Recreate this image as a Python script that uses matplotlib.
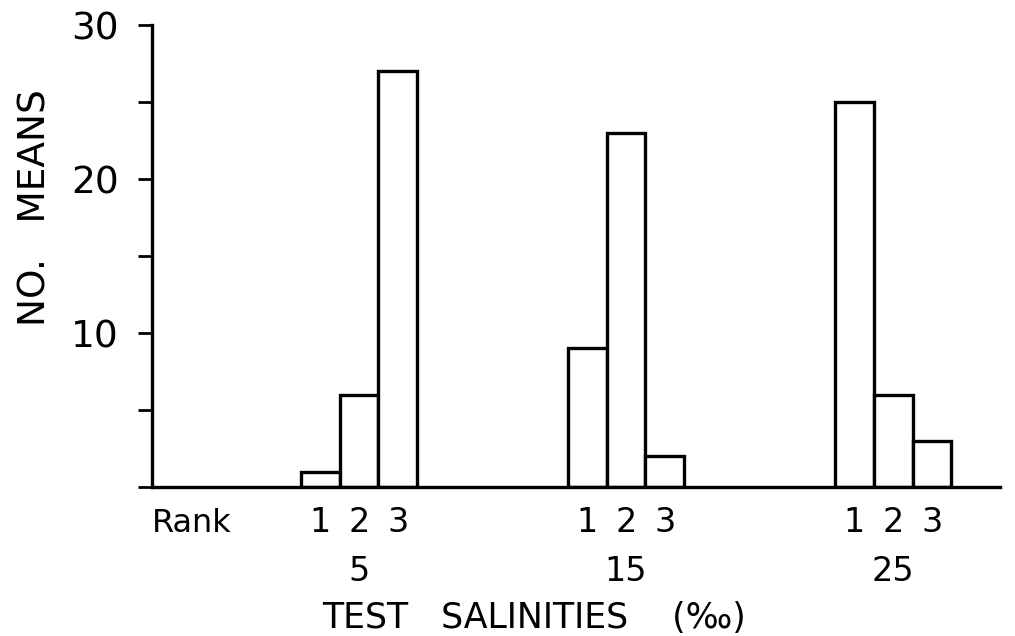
import numpy as np
import matplotlib.pyplot as plt

# data
salinities = [5, 15, 25]
ranks = [1, 2, 3]
rank1 = [1, 9, 25]
rank2 = [6, 23, 6]
rank3 = [27, 2, 3]

plt.rcParams['font.family'] = 'DejaVu Sans'

fig = plt.figure(figsize=(10.15, 6.36), dpi=100)
ax = fig.add_axes([152 / 1015, 1 - 487 / 636, 848 / 1015, 462 / 636])

w = 1.45
x = np.array(salinities, dtype=float)
for off, vals in zip([-w, 0, w], [rank1, rank2, rank3]):
    ax.bar(x + off, vals, width=w, facecolor='white', edgecolor='black',
           linewidth=2.4)

ax.set_xlim(-2.75, 29.0)
ax.set_ylim(0, 30)

for s in ['top', 'right']:
    ax.spines[s].set_visible(False)
for s in ['left', 'bottom']:
    ax.spines[s].set_linewidth(2.4)

ax.set_yticks([0, 5, 10, 15, 20, 25, 30])
ax.set_yticklabels(['', '', '10', '', '20', '', '30'])
ax.tick_params(axis='y', length=10, width=2, pad=14, labelsize=27)

# rank numbers under each bar
pos = sorted(np.concatenate([x + off for off in [-w, 0, w]]))
ax.set_xticks(pos)
ax.set_xticklabels([str(r) for _ in salinities for r in ranks])
ax.tick_params(axis='x', length=0, pad=14, labelsize=24)

ax.text(-1.25, -0.08, 'Rank', transform=ax.get_xaxis_transform(),
        ha='center', va='center', fontsize=23)
for s in salinities:
    ax.text(s, -0.183, str(s), transform=ax.get_xaxis_transform(),
            ha='center', va='center', fontsize=24)
ax.text(11.55, -0.283, 'TEST   SALINITIES    (‰)', transform=ax.get_xaxis_transform(),
        ha='center', va='center', fontsize=25)

fig.text(36 / 1015, 1 - 208 / 636, 'NO.   MEANS', rotation=90,
         ha='center', va='center', fontsize=27)

fig.savefig('out.png', dpi=100)
